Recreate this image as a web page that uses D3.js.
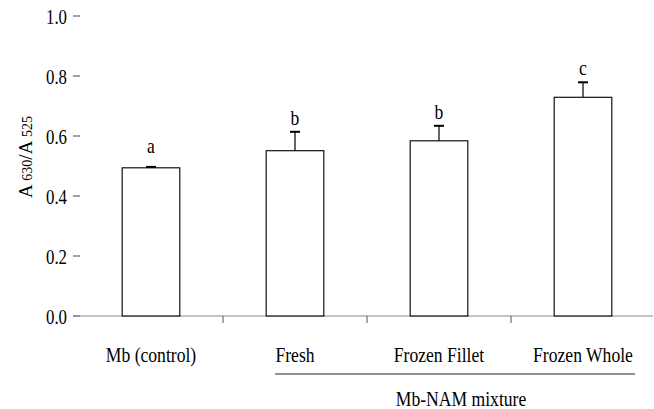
<!DOCTYPE html>
<html>
<head>
<meta charset="utf-8">
<script src="https://cdn.jsdelivr.net/npm/d3@7"></script>
<style>
  html, body { margin: 0; padding: 0; background: #fff; }
  svg { display: block; }
</style>
</head>
<body>
<script>
// A630/A525 ratio of myoglobin alone and myoglobin mixed with NAM extracts
const categories = ["Mb (control)", "Fresh", "Frozen Fillet", "Frozen Whole"];
const means = [0.494, 0.551, 0.584, 0.729];
const errors = [0.003, 0.063, 0.050, 0.050];
const groupLetters = ["a", "b", "b", "c"];
const yTicks = [0, 0.2, 0.4, 0.6, 0.8, 1.0];
const groupLabel = "Mb-NAM mixture";
const groupMembers = ["Fresh", "Frozen Fillet", "Frozen Whole"];

const W = 654, H = 409;

const svg = d3.select("body").append("svg")
  .attr("width", W).attr("height", H)
  .attr("font-family", "'Liberation Serif', 'Times New Roman', Times, serif")
  .attr("fill", "#000");

const x = d3.scaleBand()
  .domain(categories)
  .range([79, 655])
  .paddingInner(0.6)
  .paddingOuter(0.3);

const y = d3.scaleLinear().domain([0, 1]).range([316, 16]);

const step = x.step();

// narrow text helper
function label(g, tx, ty, str, size, anchor, sx) {
  return g.append("text")
    .attr("transform", `translate(${tx},${ty}) scale(${sx || 0.88},1)`)
    .attr("text-anchor", anchor || "middle")
    .attr("font-size", size)
    .text(str);
}

// y axis: tick marks and labels only
const yAxis = svg.append("g");
yTicks.forEach(t => {
  yAxis.append("line")
    .attr("x1", 73).attr("x2", 80)
    .attr("y1", y(t)).attr("y2", y(t))
    .attr("stroke", "#444").attr("stroke-width", 1);
  label(yAxis, 67, y(t) + 7.5, d3.format(".1f")(t), 21, "end", 0.8);
});

// y axis title: A630/A525
const yt = svg.append("text")
  .attr("transform", `translate(32,${(y(0) + y(1)) / 2 - 9}) rotate(-90)`)
  .attr("text-anchor", "middle")
  .attr("font-size", 19);
yt.append("tspan").text("A ");
yt.append("tspan").attr("font-size", 14).text("630");
yt.append("tspan").text("/A ");
yt.append("tspan").attr("font-size", 14).text("525");

// x axis baseline and separators between categories
const xAxis = svg.append("g");
xAxis.append("line")
  .attr("x1", 73).attr("x2", 653)
  .attr("y1", y(0)).attr("y2", y(0))
  .attr("stroke", "#888").attr("stroke-width", 1);
categories.slice(1).forEach(c => {
  const bx = x(c) - (step - x.bandwidth()) / 2;
  xAxis.append("line")
    .attr("x1", bx).attr("x2", bx)
    .attr("y1", y(0)).attr("y2", y(0) + 7)
    .attr("stroke", "#555").attr("stroke-width", 1);
});

// bars
svg.append("g").selectAll("rect")
  .data(categories)
  .join("rect")
  .attr("x", d => x(d))
  .attr("y", (d, i) => y(means[i]))
  .attr("width", x.bandwidth())
  .attr("height", (d, i) => y(0) - y(means[i]))
  .attr("fill", "#fff")
  .attr("stroke", "#111")
  .attr("stroke-width", 1.2);

// upper error bars
const eb = svg.append("g");
categories.forEach((c, i) => {
  const cx = x(c) + x.bandwidth() / 2;
  eb.append("line")
    .attr("x1", cx).attr("x2", cx)
    .attr("y1", y(means[i])).attr("y2", y(means[i] + errors[i]))
    .attr("stroke", "#000").attr("stroke-width", 1.2);
  eb.append("line")
    .attr("x1", cx - 5).attr("x2", cx + 5)
    .attr("y1", y(means[i] + errors[i])).attr("y2", y(means[i] + errors[i]))
    .attr("stroke", "#000").attr("stroke-width", 2);
});

// significance letters
categories.forEach((c, i) => {
  const cx = x(c) + x.bandwidth() / 2;
  const top = Math.max(means[i] + errors[i], means[i] + 0.025);
  label(svg, cx, y(top) - 7, groupLetters[i], 20);
});

// category labels
categories.forEach(c => {
  label(svg, x(c) + x.bandwidth() / 2, 362, c, 20);
});

// grouping bracket under the NAM mixtures
const gx0 = 275, gx1 = 635;
svg.append("line")
  .attr("x1", gx0).attr("x2", gx1)
  .attr("y1", 374).attr("y2", 374)
  .attr("stroke", "#222").attr("stroke-width", 1);
const gmid = (x(groupMembers[0]) + x(groupMembers[2]) + x.bandwidth()) / 2;
label(svg, gmid + 22, 406, groupLabel, 20);
</script>
</body>
</html>
